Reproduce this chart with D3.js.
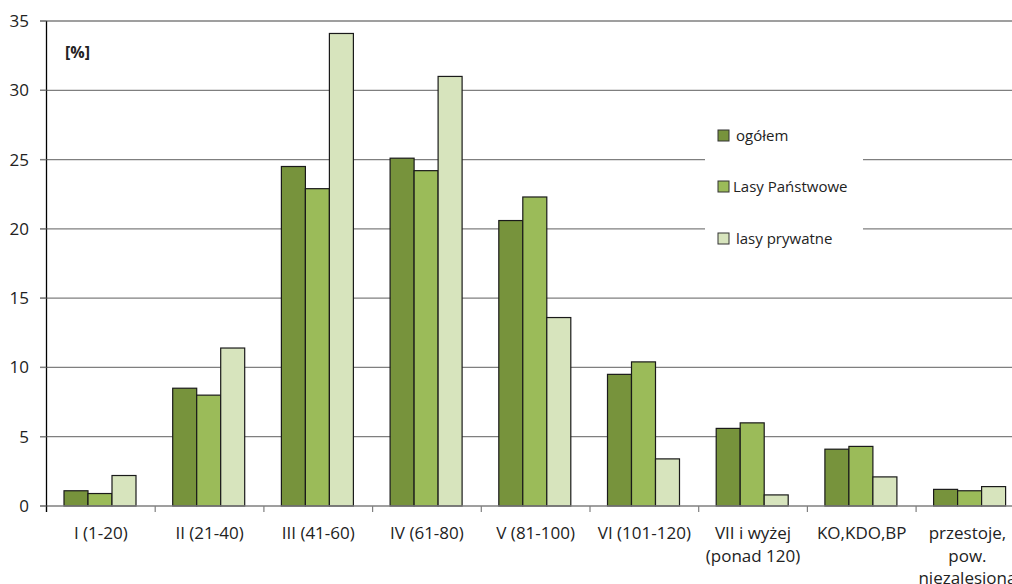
<!DOCTYPE html>
<html><head><meta charset="utf-8">
<script src="https://cdn.jsdelivr.net/npm/d3@7"></script>
<style>body{margin:0;background:#fff}svg{display:block}text{font-family:"Open Sans",sans-serif}</style>
</head><body><svg id="c" width="1012" height="584"></svg>
<script>
const categories = [["I (1-20)"],["II (21-40)"],["III (41-60)"],["IV (61-80)"],["V (81-100)"],["VI (101-120)"],["VII i wyżej","(ponad 120)"],["KO,KDO,BP"],["przestoje,","pow.","niezalesiona"]];
const seriesNames = ["ogółem","Lasy Państwowe","lasy prywatne"];
const ogolem = [1.1,8.5,24.5,25.1,20.6,9.5,5.6,4.1,1.2];
const lasyPanstwowe = [0.9,8.0,22.9,24.2,22.3,10.4,6.0,4.3,1.1];
const lasyPrywatne = [2.2,11.4,34.1,31.0,13.6,3.4,0.8,2.1,1.4];
const yTicks = [0,5,10,15,20,25,30,35];
const colors = ["#77933C","#9BBB59","#D7E4BD"];
const series = [ogolem, lasyPanstwowe, lasyPrywatne];

const svg = d3.select("#c");
const x0 = 46.5, bandW = 108.7;
const x = d3.scaleBand().domain(d3.range(categories.length)).range([x0, x0 + bandW*categories.length]).paddingInner(0).paddingOuter(0);
const y = d3.scaleLinear().domain([0,35]).range([506,21]);
const xs = d3.scaleBand().domain(d3.range(3)).range([17.5, 17.5+72]).paddingInner(0).paddingOuter(0);

// gridlines
svg.append("g").selectAll("line").data(yTicks.filter(d=>d>0)).join("line")
  .attr("x1", 40).attr("x2", 1012).attr("y1", d=>y(d)).attr("y2", d=>y(d))
  .attr("stroke", "#7f7f7f").attr("stroke-width", 1.3);

// legend background covering gridlines
svg.append("rect").attr("x",705).attr("y",110).attr("width",158).attr("height",142).attr("fill","#fff");

// bars
const g = svg.append("g");
series.forEach((s, si) => {
  g.selectAll(".b"+si).data(s).join("rect")
    .attr("x", (d,i)=> x(i) + xs(si) )
    .attr("y", d=>y(d)).attr("width", xs.bandwidth()).attr("height", d=>y(0)-y(d))
    .attr("fill", colors[si]).attr("stroke", "#1a1a1a").attr("stroke-width", 1.2);
});

// x axis
svg.append("line").attr("x1",40).attr("x2",1012).attr("y1",y(0)).attr("y2",y(0)).attr("stroke","#7f7f7f").attr("stroke-width",1.5);
svg.append("g").selectAll("line").data(d3.range(categories.length+1)).join("line")
  .attr("x1", i=>x0+i*bandW).attr("x2", i=>x0+i*bandW).attr("y1", y(0)).attr("y2", y(0)+6)
  .attr("stroke","#7f7f7f").attr("stroke-width",1.2);
// y axis
svg.append("line").attr("x1",x0).attr("x2",x0).attr("y1",y(35)).attr("y2",y(0)+6).attr("stroke","#000").attr("stroke-width",1.3);
svg.append("g").selectAll("line").data(yTicks).join("line")
  .attr("x1", 40).attr("x2", x0).attr("y1", d=>y(d)).attr("y2", d=>y(d))
  .attr("stroke","#7f7f7f").attr("stroke-width",1.3);

// y labels
svg.append("g").selectAll("text").data(yTicks).join("text")
  .attr("x", 29).attr("y", d=>y(d)+6).attr("text-anchor","end").attr("font-size",17).attr("fill","#222").text(d=>d);

// x labels
const xl = svg.append("g");
categories.forEach((lines,i)=>{
  lines.forEach((t,j)=>{
    xl.append("text").attr("x", x(i)+x.bandwidth()/2 - (i===8?3:0)).attr("y", 539 + j*22.5)
      .attr("text-anchor","middle").attr("font-size",17).attr("fill","#222").text(t);
  });
});

// unit label
svg.append("text").attr("x",65).attr("y",58).attr("font-size",16).attr("font-weight","bold").attr("fill","#222").text("[%]");

// legend
const ly = [136, 187, 239];
seriesNames.forEach((n,i)=>{
  svg.append("rect").attr("x",718).attr("y",ly[i]-6).attr("width",11).attr("height",11)
    .attr("fill",colors[i]).attr("stroke","#333").attr("stroke-width",1);
  svg.append("text").attr("x",i===1?733:736).attr("y",ly[i]+5).attr("font-size",15).attr("fill","#222").text(n);
});
</script></body></html>
